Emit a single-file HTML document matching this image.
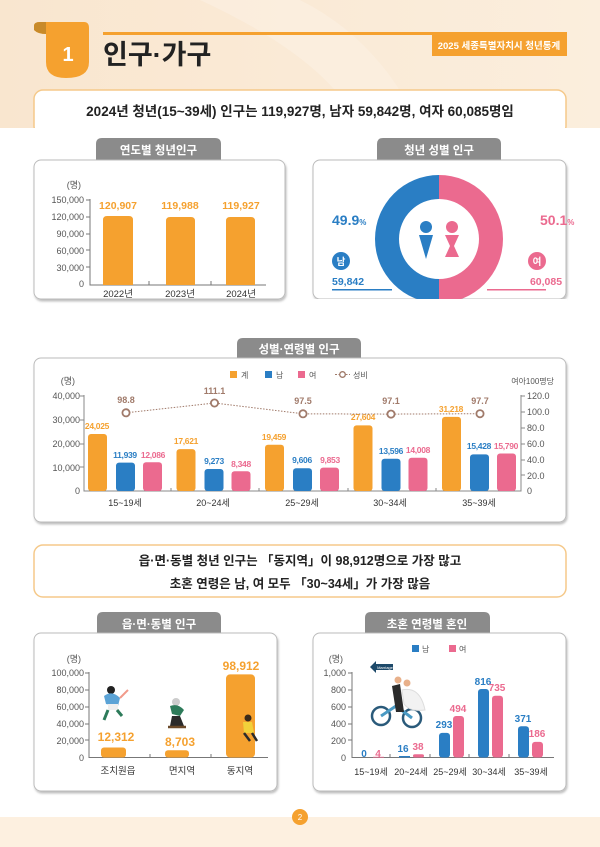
<!DOCTYPE html>
<html><head><meta charset="utf-8"><style>
html,body{margin:0;padding:0;background:#fff}
svg{display:block}
text{font-family:"Liberation Sans","Noto Sans CJK KR",sans-serif}
</style></head><body>
<svg width="600" height="847" viewBox="0 0 600 847" xmlns="http://www.w3.org/2000/svg">
<defs>
<linearGradient id="bg" x1="0" y1="0" x2="1" y2="0"><stop offset="0" stop-color="#f9e6cf"/><stop offset="1" stop-color="#fbeedd"/></linearGradient>
<filter id="sh" x="-5%" y="-5%" width="110%" height="115%"><feDropShadow dx="1" dy="2" stdDeviation="1" flood-color="#000" flood-opacity="0.25"/></filter>
</defs>
<rect x="0" y="0" width="600" height="128" fill="url(#bg)"/>
<path d="M200 0 Q330 60 360 128 L420 128 Q380 40 300 0Z" fill="#fbf0e2" opacity="0.6"/>
<rect x="0" y="817" width="600" height="30" fill="#fdf0e0"/>

<!-- header -->
<path d="M34 26 Q34 22 40 22 L84 22 Q89 22 89 28 L89 62 Q89 78 66 78 Q46 78 46 62 L46 34 Q38 34 34 30Z" fill="#f5a12f"/>
<path d="M34 26 Q34 22 40 22 L46 22 L46 34 Q38 34 34 30Z" fill="#c88a2a"/>
<text x="68" y="61" font-size="20" font-weight="bold" fill="#fff" text-anchor="middle">1</text>
<rect x="103" y="32" width="464" height="3" fill="#f5a12f"/>
<rect x="432" y="33" width="135" height="23" fill="#f5a12f"/>
<text x="499" y="49" font-size="9.5" font-weight="bold" fill="#fff" text-anchor="middle">2025 세종특별자치시 청년통계</text>
<text x="103" y="64" font-size="27" font-weight="bold" fill="#222">인구·가구</text>

<!-- summary 1 -->
<rect x="34" y="90" width="532" height="45" rx="9" fill="#fff" stroke="#f5c98a" stroke-width="1.5"/>
<rect x="33" y="128" width="535" height="10" fill="#fff"/>
<text x="300" y="116" font-size="13.5" font-weight="bold" fill="#222" text-anchor="middle">2024년 청년(15~39세) 인구는 119,927명, 남자 59,842명, 여자 60,085명임</text>

<!-- panel 1 -->
<path d="M96 160 L96 144 Q96 138 102 138 L215 138 Q221 138 221 144 L221 160Z" fill="#8b8b8b"/>
<text x="158.5" y="154" font-size="11.5" font-weight="bold" fill="#fff" text-anchor="middle">연도별 청년인구</text>
<rect x="34" y="160" width="251" height="139" rx="7" fill="#fff" stroke="#bbb" filter="url(#sh)"/>
<g font-size="9" fill="#555" text-anchor="end">
<text x="81" y="188">(명)</text>
<text x="84" y="203">150,000</text><text x="84" y="220">120,000</text><text x="84" y="237">90,000</text>
<text x="84" y="254">60,000</text><text x="84" y="271">30,000</text><text x="84" y="287">0</text>
</g>
<path d="M90 199 L90 285 L266 285 M86 200 H90 M86 217 H90 M86 234 H90 M86 250 H90 M86 267 H90 M149 285 V281 M211 285 V281" stroke="#777" fill="none"/>
<g fill="#f5a12f">
<path d="M103 285 V220 Q103 216 107 216 H129 Q133 216 133 220 V285Z"/>
<path d="M166 285 V221 Q166 217 170 217 H191 Q195 217 195 221 V285Z"/>
<path d="M226 285 V221 Q226 217 230 217 H251 Q255 217 255 221 V285Z"/>
</g>
<g font-size="10.5" font-weight="bold" fill="#f5a12f" text-anchor="middle">
<text x="118" y="209">120,907</text><text x="180" y="209">119,988</text><text x="241" y="209">119,927</text>
</g>
<g font-size="9.5" fill="#333" text-anchor="middle">
<text x="118" y="297">2022년</text><text x="180" y="297">2023년</text><text x="241" y="297">2024년</text>
</g>

<!-- panel 2 -->
<path d="M377 160 L377 144 Q377 138 383 138 L495 138 Q501 138 501 144 L501 160Z" fill="#8b8b8b"/>
<text x="439" y="154" font-size="11.5" font-weight="bold" fill="#fff" text-anchor="middle">청년 성별 인구</text>
<rect x="313" y="160" width="253" height="139" rx="7" fill="#fff" stroke="#bbb" filter="url(#sh)"/>
<path d="M439 175 A64 64 0 0 0 439 303 L439 279 A40 40 0 0 1 439 199Z" fill="#2a7ec4"/>
<path d="M439 175 A64 64 0 0 1 439 303 L439 279 A40 40 0 0 0 439 199Z" fill="#eb6a8f"/>
<rect x="313" y="299" width="254" height="8" fill="#fff"/>
<circle cx="426" cy="227" r="6" fill="#2a7ec4"/>
<path d="M419 235 H433 L426 259Z" fill="#2a7ec4"/>
<circle cx="452" cy="227" r="6" fill="#eb6a8f"/>
<path d="M445 235 H459 L454 246 L459 257 H445 L450 246Z" fill="#eb6a8f"/>
<text x="332" y="225" font-size="14" font-weight="bold" fill="#2a7ec4">49.9<tspan font-size="8">%</tspan></text>
<text x="540" y="225" font-size="14" font-weight="bold" fill="#eb6a8f">50.1<tspan font-size="8">%</tspan></text>
<circle cx="341" cy="261" r="9" fill="#2a7ec4"/><text x="341" y="265" font-size="9.5" font-weight="bold" fill="#fff" text-anchor="middle">남</text>
<circle cx="537" cy="261" r="9" fill="#eb6a8f"/><text x="537" y="265" font-size="9.5" font-weight="bold" fill="#fff" text-anchor="middle">여</text>
<text x="332" y="285" font-size="10.5" font-weight="bold" fill="#2a7ec4">59,842</text>
<text x="546" y="285" font-size="10.5" font-weight="bold" fill="#eb6a8f" text-anchor="middle">60,085</text>
<rect x="332" y="289" width="60" height="1.5" fill="#2a7ec4"/>
<rect x="487" y="289" width="59" height="1.5" fill="#eb6a8f"/>

<!-- panel 3 -->
<path d="M237 358 L237 344 Q237 338 243 338 L355 338 Q361 338 361 344 L361 358Z" fill="#8b8b8b"/>
<text x="299" y="353" font-size="11.5" font-weight="bold" fill="#fff" text-anchor="middle">성별·연령별 인구</text>
<rect x="34" y="358" width="532" height="164" rx="7" fill="#fff" stroke="#bbb" filter="url(#sh)"/>
<g font-size="8" fill="#555">
<rect x="230" y="371" width="7" height="7" fill="#f5a12f"/><text x="241" y="378">계</text>
<rect x="265" y="371" width="7" height="7" fill="#2a7ec4"/><text x="276" y="378">남</text>
<rect x="298" y="371" width="7" height="7" fill="#eb6a8f"/><text x="309" y="378">여</text>
<path d="M335 374.5 H350" stroke="#a07a6a" stroke-dasharray="2,1.5"/><circle cx="342.5" cy="374.5" r="2.8" fill="#fff" stroke="#a07a6a" stroke-width="1.3"/><text x="353" y="378">성비</text>
</g>
<g font-size="9" fill="#555" text-anchor="end">
<text x="75" y="384">(명)</text>
<text x="80" y="399">40,000</text><text x="80" y="423">30,000</text><text x="80" y="447">20,000</text><text x="80" y="471">10,000</text><text x="80" y="494">0</text>
</g>
<g font-size="9" fill="#555">
<text x="554" y="384" text-anchor="end" font-size="8">여아100명당</text>
<text x="527" y="399">120.0</text><text x="527" y="415">100.0</text><text x="527" y="431">80.0</text><text x="527" y="447">60.0</text><text x="527" y="463">40.0</text><text x="527" y="479">20.0</text><text x="527" y="494">0</text>
</g>
<path d="M84 395 V491 H521 V395 M80 396 H84 M80 420 H84 M80 444 H84 M80 467 H84 M521 396 H525 M521 412 H525 M521 428 H525 M521 444 H525 M521 460 H525 M521 475 H525 M171 491 V488 M259 491 V488 M348 491 V488 M436 491 V488" stroke="#888" fill="none"/>
<g>
<rect x="88" y="434" width="19" height="57" rx="3" fill="#f5a12f"/><rect x="116" y="462.6" width="19" height="28.4" rx="3" fill="#2a7ec4"/><rect x="143" y="462.3" width="19" height="28.7" rx="3" fill="#eb6a8f"/>
<rect x="176.5" y="449.1" width="19" height="41.9" rx="3" fill="#f5a12f"/><rect x="204.5" y="469" width="19" height="22" rx="3" fill="#2a7ec4"/><rect x="231.5" y="471.2" width="19" height="19.8" rx="3" fill="#eb6a8f"/>
<rect x="265" y="444.8" width="19" height="46.2" rx="3" fill="#f5a12f"/><rect x="293" y="468.2" width="19" height="22.8" rx="3" fill="#2a7ec4"/><rect x="320" y="467.6" width="19" height="23.4" rx="3" fill="#eb6a8f"/>
<rect x="353.5" y="425.4" width="19" height="65.6" rx="3" fill="#f5a12f"/><rect x="381.5" y="458.7" width="19" height="32.3" rx="3" fill="#2a7ec4"/><rect x="408.5" y="457.7" width="19" height="33.3" rx="3" fill="#eb6a8f"/>
<rect x="442" y="416.9" width="19" height="74.1" rx="3" fill="#f5a12f"/><rect x="470" y="454.4" width="19" height="36.6" rx="3" fill="#2a7ec4"/><rect x="497" y="453.5" width="19" height="37.5" rx="3" fill="#eb6a8f"/>
</g>
<g font-size="8.5" font-weight="bold" text-anchor="middle" letter-spacing="-0.3">
<g fill="#f5a12f"><text x="97" y="429">24,025</text><text x="186" y="444">17,621</text><text x="274" y="440">19,459</text><text x="363" y="420">27,604</text><text x="451" y="412">31,218</text></g>
<g fill="#2a7ec4"><text x="125" y="458">11,939</text><text x="214" y="464">9,273</text><text x="302" y="463">9,606</text><text x="391" y="454">13,596</text><text x="479" y="449">15,428</text></g>
<g fill="#eb6a8f"><text x="153" y="458">12,086</text><text x="241" y="467">8,348</text><text x="330" y="463">9,853</text><text x="418" y="453">14,008</text><text x="506" y="449">15,790</text></g>
</g>
<polyline points="126,412.8 214.5,403 303,413.8 391,414.1 480,413.7" fill="none" stroke="#a07a6a" stroke-dasharray="1.5,1.5"/>
<g fill="#fff" stroke="#a07a6a" stroke-width="1.8">
<circle cx="126" cy="412.8" r="3.6"/><circle cx="214.5" cy="403" r="3.6"/><circle cx="303" cy="413.8" r="3.6"/><circle cx="391" cy="414.1" r="3.6"/><circle cx="480" cy="413.7" r="3.6"/>
</g>
<g font-size="9" font-weight="bold" fill="#a07a6a" text-anchor="middle">
<text x="126" y="403">98.8</text><text x="214.5" y="394">111.1</text><text x="303" y="404">97.5</text><text x="391" y="404">97.1</text><text x="480" y="404">97.7</text>
</g>
<g font-size="9" fill="#333" text-anchor="middle">
<text x="125" y="506">15~19세</text><text x="213" y="506">20~24세</text><text x="302" y="506">25~29세</text><text x="390" y="506">30~34세</text><text x="479" y="506">35~39세</text>
</g>

<!-- summary 2 -->
<rect x="34" y="545" width="532" height="52" rx="9" fill="#fff" stroke="#f5c98a" stroke-width="1.5"/>
<text x="300" y="565" font-size="12.5" font-weight="bold" fill="#222" text-anchor="middle">읍·면·동별 청년 인구는 「동지역」이 98,912명으로 가장 많고</text>
<text x="300" y="588" font-size="12.5" font-weight="bold" fill="#222" text-anchor="middle">초혼 연령은 남, 여 모두 「30~34세」가 가장 많음</text>

<!-- panel 4 -->
<path d="M97 633 L97 618 Q97 612 103 612 L215 612 Q221 612 221 618 L221 633Z" fill="#8b8b8b"/>
<text x="159" y="628" font-size="11.5" font-weight="bold" fill="#fff" text-anchor="middle">읍·면·동별 인구</text>
<rect x="34" y="633" width="243" height="158" rx="7" fill="#fff" stroke="#bbb" filter="url(#sh)"/>
<g font-size="9" fill="#555" text-anchor="end">
<text x="81" y="662">(명)</text>
<text x="84" y="676">100,000</text><text x="84" y="693">80,000</text><text x="84" y="710">60,000</text><text x="84" y="727">40,000</text><text x="84" y="744">20,000</text><text x="84" y="761">0</text>
</g>
<path d="M89 672 V757.5 H268 M85 673 H89 M85 690 H89 M85 707 H89 M85 724 H89 M85 740 H89 M150 757 V754 M211 757 V754" stroke="#777" fill="none"/>
<rect x="101" y="747.5" width="25" height="10" rx="3" fill="#f5a12f"/>
<rect x="165" y="750.2" width="24" height="7.3" rx="3" fill="#f5a12f"/>
<rect x="226" y="674.4" width="29" height="83.1" rx="4" fill="#f5a12f"/>
<g font-size="12" font-weight="bold" fill="#f5a12f" text-anchor="middle">
<text x="116" y="741">12,312</text><text x="180" y="746">8,703</text><text x="241" y="670">98,912</text>
</g>
<g font-size="9.5" fill="#333" text-anchor="middle">
<text x="118" y="774">조치원읍</text><text x="182" y="774">면지역</text><text x="240" y="774">동지역</text>
</g>
<g>
<circle cx="111" cy="690" r="4" fill="#222"/><path d="M104 696 Q112 690 120 698 L118 706 L106 704Z" fill="#5ba3d6"/><rect x="108" y="704" width="10" height="6" fill="#eee"/><path d="M108 710 L104 720 M117 710 L122 716" stroke="#2d7b5a" stroke-width="3"/><path d="M120 698 L128 690" stroke="#f19a8a" stroke-width="2"/>
<circle cx="176" cy="702" r="4" fill="#ccc"/><path d="M170 706 Q178 703 184 710 L180 716 L172 714Z" fill="#2d7b5a"/><path d="M172 716 L180 716 L184 726 L170 726Z" fill="#2b2b2b"/><path d="M168 727 H186" stroke="#6b4a2a" stroke-width="2.5"/>
<circle cx="248" cy="718" r="3.5" fill="#3a2a1a"/><path d="M243 722 L252 722 L254 733 L244 733Z" fill="#f2d03a"/><path d="M244 733 L250 741 M252 733 L257 741" stroke="#2b2b2b" stroke-width="2.5"/>
</g>

<!-- panel 5 -->
<path d="M365 633 L365 618 Q365 612 371 612 L484 612 Q490 612 490 618 L490 633Z" fill="#8b8b8b"/>
<text x="427" y="628" font-size="11.5" font-weight="bold" fill="#fff" text-anchor="middle">초혼 연령별 혼인</text>
<rect x="313" y="633" width="253" height="158" rx="7" fill="#fff" stroke="#bbb" filter="url(#sh)"/>
<g font-size="8">
<rect x="412" y="645" width="7" height="7" fill="#2a7ec4"/><text x="422" y="652" fill="#555">남</text>
<rect x="449" y="645" width="7" height="7" fill="#eb6a8f"/><text x="459" y="652" fill="#555">여</text>
</g>
<g font-size="9" fill="#555" text-anchor="end">
<text x="343" y="662">(명)</text>
<text x="346" y="676">1,000</text><text x="346" y="693">800</text><text x="346" y="710">600</text><text x="346" y="727">400</text><text x="346" y="744">200</text><text x="346" y="761">0</text>
</g>
<path d="M352 672 V757.5 H554 M348 673 H352 M348 690 H352 M348 707 H352 M348 724 H352 M348 740 H352 M390 757 V754 M430 757 V754 M469 757 V754 M509 757 V754" stroke="#777" fill="none"/>
<g>
<rect x="373" y="756.8" width="11" height="0.8" fill="#eb6a8f"/>
<rect x="399" y="756" width="11" height="1.5" fill="#2a7ec4"/><rect x="413" y="754.3" width="11" height="3.2" rx="2" fill="#eb6a8f"/>
<rect x="439" y="732.9" width="11" height="24.6" rx="3" fill="#2a7ec4"/><rect x="453" y="716" width="11" height="41.5" rx="3" fill="#eb6a8f"/>
<rect x="478" y="689" width="11" height="68.5" rx="3" fill="#2a7ec4"/><rect x="492" y="695.8" width="11" height="61.7" rx="3" fill="#eb6a8f"/>
<rect x="518" y="726.3" width="11" height="31.2" rx="3" fill="#2a7ec4"/><rect x="532" y="741.9" width="11" height="15.6" rx="3" fill="#eb6a8f"/>
</g>
<g font-size="10" font-weight="bold" text-anchor="middle">
<g fill="#2a7ec4"><text x="364" y="757">0</text><text x="403" y="752">16</text><text x="444" y="728">293</text><text x="483" y="685">816</text><text x="523" y="722">371</text></g>
<g fill="#eb6a8f"><text x="378" y="757">4</text><text x="418" y="750">38</text><text x="458" y="712">494</text><text x="497" y="691">735</text><text x="537" y="737">186</text></g>
</g>
<g font-size="9" fill="#333" text-anchor="middle">
<text x="371" y="775">15~19세</text><text x="411" y="775">20~24세</text><text x="450" y="775">25~29세</text><text x="489" y="775">30~34세</text><text x="531" y="775">35~39세</text>
</g>
<g>
<path d="M370 667 L376 661 L376 664 L393 664 L393 670 L376 670 L376 673Z" fill="#1e4a6a"/>
<text x="385" y="669" font-size="4" fill="#fff" text-anchor="middle">Marriage</text>
<circle cx="381" cy="716" r="9" fill="none" stroke="#2a5a7a" stroke-width="2.5"/>
<circle cx="412" cy="718" r="9" fill="none" stroke="#2a5a7a" stroke-width="2.5"/>
<path d="M381 716 L396 706 L412 718" stroke="#4a9ac4" stroke-width="3" fill="none"/>
<path d="M392 686 L400 684 L404 712 L396 712Z" fill="#2b2b2b"/>
<path d="M402 690 Q420 686 425 710 Q410 712 404 704Z" fill="#f2f2f2" stroke="#ddd"/>
<circle cx="398" cy="680" r="3.5" fill="#e8b08a"/><circle cx="407" cy="683" r="3.5" fill="#e8b08a"/>
</g>

<circle cx="300" cy="817" r="8" fill="#f5a12f"/>
<text x="300" y="820" font-size="8" fill="#fff" text-anchor="middle">2</text>
</svg>
</body></html>
